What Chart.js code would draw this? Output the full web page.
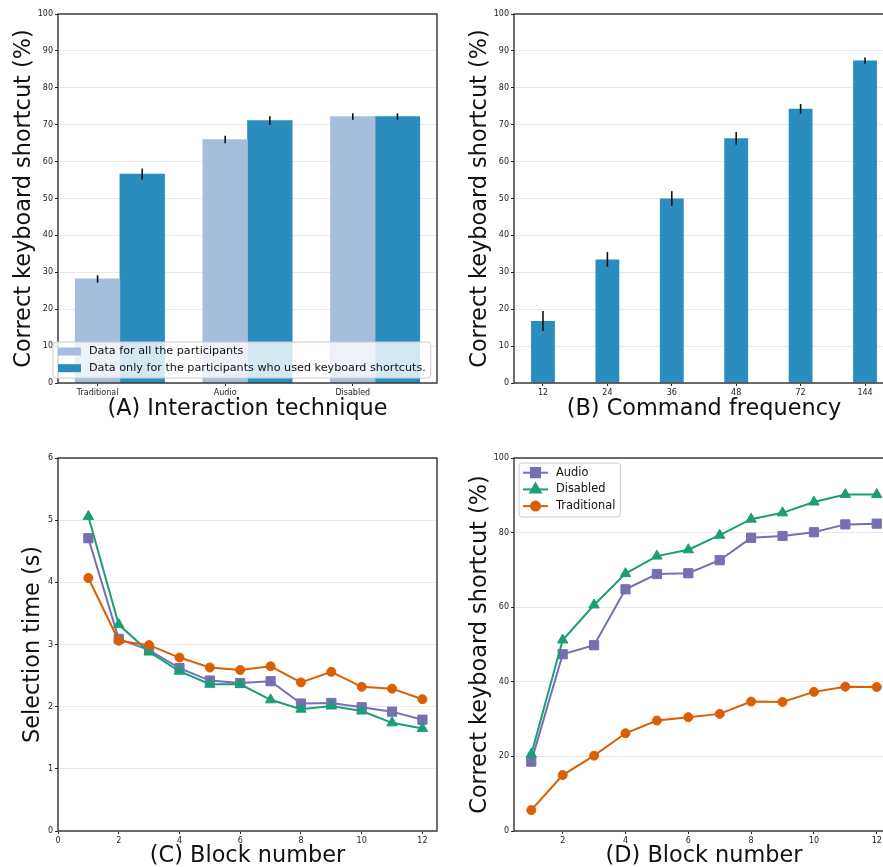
<!DOCTYPE html>
<html lang="en">
<head>
<meta charset="UTF-8" />
<title>Keyboard shortcuts study</title>
<script src="https://cdn.jsdelivr.net/npm/chart.js"></script>
<style>
  html, body { margin: 0; padding: 0; background: #fff; overflow: hidden; width: 883px; height: 867px; }
  canvas { position: absolute; }
</style>
</head>
<body>
<canvas id="chartA" width="441" height="430" style="left:0;top:0"></canvas>
<canvas id="chartB" width="460" height="430" style="left:440px;top:0"></canvas>
<canvas id="chartC" width="441" height="437" style="left:0;top:430px"></canvas>
<canvas id="chartD" width="460" height="437" style="left:440px;top:430px"></canvas>
<script>
// (A) interaction technique
const techniques = ["Traditional", "Audio", "Disabled"];
const allParticipants = [28.2, 66.0, 72.2];
const allErrors = [1.0, 1.0, 0.9];
const shortcutUsers = [56.6, 71.1, 72.2];
const shortcutErrors = [1.5, 1.2, 0.9];

// (B) command frequency
const frequencies = ["12", "24", "36", "48", "72", "144"];
const frequencyValues = [16.8, 33.5, 50.0, 66.3, 74.3, 87.4];
const frequencyErrors = [2.7, 2.0, 2.0, 1.7, 1.3, 0.8];

// (C) and (D) per block
const blocks = [1, 2, 3, 4, 5, 6, 7, 8, 9, 10, 11, 12];
const timeAudio = [4.71, 3.09, 2.91, 2.62, 2.42, 2.38, 2.41, 2.05, 2.06, 1.99, 1.92, 1.79];
const timeDisabled = [5.06, 3.32, 2.88, 2.57, 2.36, 2.36, 2.11, 1.96, 2.01, 1.93, 1.74, 1.65];
const timeTraditional = [4.07, 3.06, 2.99, 2.79, 2.63, 2.59, 2.65, 2.39, 2.56, 2.32, 2.29, 2.12];
const shortcutAudio = [18.6, 47.4, 49.8, 64.8, 68.9, 69.1, 72.6, 78.6, 79.1, 80.1, 82.2, 82.4];
const shortcutDisabled = [20.6, 51.2, 60.6, 69.0, 73.7, 75.4, 79.3, 83.6, 85.3, 88.2, 90.2, 90.2];
const shortcutTraditional = [5.6, 15.0, 20.2, 26.2, 29.6, 30.5, 31.4, 34.7, 34.6, 37.3, 38.7, 38.6];

const tickFont = { family: "DejaVu Sans", size: 8 };
const titleFont = { family: "DejaVu Sans", size: 22.4, lineHeight: 1 };
const ink = "#222";
const light = "#a6bddb";
const dark = "#2b8cbe";
const purple = "#7570b3";
const green = "#1b9e77";
const orange = "#d95f02";

function yAxis(min, max, step, title, titleGap, width) {
  return {
    min: min,
    max: max,
    ticks: { stepSize: step, font: tickFont, color: ink, padding: 2 },
    grid: { color: "#e8e8e8", tickColor: ink, tickLength: 3 },
    border: { display: false },
    title: { display: true, text: title, font: titleFont, color: "#111", padding: { top: titleGap, bottom: 0 } },
    afterFit: (scale) => { scale.width = width; },
  };
}

function xAxis(min, max, tickValues, tickLabels, title, titleGap, height) {
  return {
    type: "linear",
    min: min,
    max: max,
    offset: false,
    afterBuildTicks: (scale) => {
      scale.ticks = tickValues.map((v) => ({ value: v }));
    },
    ticks: {
      font: tickFont,
      color: ink,
      padding: 2,
      maxRotation: 0,
      autoSkip: false,
      callback: (value, index) => (tickLabels ? tickLabels[index] : value),
    },
    grid: { drawOnChartArea: false, tickColor: ink, tickLength: 3, offset: false },
    border: { display: false },
    title: { display: true, text: title, font: titleFont, color: "#111", padding: { top: 0, bottom: titleGap } },
    afterFit: (scale) => {
      scale.height = height;
      scale.paddingLeft = 0;
      scale.paddingRight = 0;
    },
  };
}

function points(xs, ys) {
  return xs.map((x, i) => ({ x: x, y: ys[i] }));
}

function roundBox(ctx, x, y, w, h, r) {
  ctx.beginPath();
  ctx.moveTo(x + r, y);
  ctx.lineTo(x + w - r, y);
  ctx.arcTo(x + w, y, x + w, y + r, r);
  ctx.lineTo(x + w, y + h - r);
  ctx.arcTo(x + w, y + h, x + w - r, y + h, r);
  ctx.lineTo(x + r, y + h);
  ctx.arcTo(x, y + h, x, y + h - r, r);
  ctx.lineTo(x, y + r);
  ctx.arcTo(x, y, x + r, y, r);
  ctx.closePath();
  ctx.fillStyle = "rgba(255,255,255,0.8)";
  ctx.fill();
  ctx.strokeStyle = "#cccccc";
  ctx.lineWidth = 1;
  ctx.stroke();
}

// box around the plot area, like matplotlib spines
const framePlugin = {
  id: "frame",
  afterDatasetsDraw(chart) {
    const { ctx, chartArea: a } = chart;
    ctx.save();
    ctx.strokeStyle = ink;
    ctx.lineWidth = 1.3;
    ctx.strokeRect(a.left, a.top, a.right - a.left, a.bottom - a.top);
    ctx.restore();
  },
};

const errorBarPlugin = {
  id: "errorBars",
  afterDatasetsDraw(chart) {
    const ctx = chart.ctx;
    const yScale = chart.scales.y;
    chart.data.datasets.forEach((ds, i) => {
      if (!ds.errors) return;
      const meta = chart.getDatasetMeta(i);
      ctx.save();
      ctx.strokeStyle = "#111";
      ctx.lineWidth = 1.6;
      meta.data.forEach((bar, j) => {
        const v = ds.data[j].y;
        const e = ds.errors[j];
        ctx.beginPath();
        ctx.moveTo(bar.x, yScale.getPixelForValue(v - e));
        ctx.lineTo(bar.x, yScale.getPixelForValue(v + e));
        ctx.stroke();
      });
      ctx.restore();
    });
  },
};

const barLegendPlugin = {
  id: "barLegend",
  afterDraw(chart) {
    const { ctx, chartArea: a } = chart;
    const items = chart.data.datasets;
    ctx.save();
    ctx.font = "11.2px 'DejaVu Sans'";
    const textW = Math.max(...items.map((d) => ctx.measureText(d.label).width));
    const w = 36 + textW + 5;
    const h = 36;
    const x = a.left - 5;
    const y = a.bottom - 5 - h;
    roundBox(ctx, x, y, w, h, 3);
    items.forEach((d, i) => {
      const cy = y + 9.5 + i * 16.7;
      ctx.fillStyle = d.backgroundColor;
      ctx.fillRect(x + 5, cy - 4, 23, 8);
      ctx.fillStyle = "#111";
      ctx.textBaseline = "middle";
      ctx.fillText(d.label, x + 36, cy);
    });
    ctx.restore();
  },
};

const lineLegendPlugin = {
  id: "lineLegend",
  afterDraw(chart) {
    const { ctx, chartArea: a } = chart;
    const items = chart.data.datasets;
    ctx.save();
    ctx.font = "11.4px 'DejaVu Sans'";
    const textW = Math.max(...items.map((d) => ctx.measureText(d.label).width));
    const w = 37 + textW + 5;
    const h = 54;
    const x = a.left + 5;
    const y = a.top + 5;
    roundBox(ctx, x, y, w, h, 3);
    items.forEach((d, i) => {
      const cy = y + 9.7 + i * 16.7;
      ctx.strokeStyle = d.borderColor;
      ctx.fillStyle = d.borderColor;
      ctx.lineWidth = 2;
      ctx.beginPath();
      ctx.moveTo(x + 4, cy);
      ctx.lineTo(x + 29, cy);
      ctx.stroke();
      Chart.helpers.drawPoint(ctx, { pointStyle: d.pointStyle, radius: d.pointRadius, rotation: 0, borderWidth: 1 }, x + 16.5, cy);
      ctx.fillStyle = "#111";
      ctx.textBaseline = "middle";
      ctx.fillText(d.label, x + 37, cy);
    });
    ctx.restore();
  },
};

function lineSet(label, values, color, style, radius, order) {
  return {
    label: label,
    data: points(blocks, values),
    borderColor: color,
    backgroundColor: color,
    pointBackgroundColor: color,
    pointBorderColor: color,
    borderWidth: 2,
    pointStyle: style,
    pointRadius: radius,
    pointBorderWidth: 1,
    tension: 0,
    order: order,
  };
}

function baseOptions(padding, x, y) {
  return {
    responsive: false,
    animation: false,
    layout: { padding: padding, autoPadding: false },
    plugins: { legend: { display: false }, tooltip: { enabled: false } },
    scales: { x: x, y: y },
  };
}

const techX = techniques.map((t, i) => i);

new Chart(document.getElementById("chartA"), {
  type: "bar",
  data: {
    datasets: [
      {
        label: "Data for all the participants",
        data: points(techX, allParticipants),
        errors: allErrors,
        backgroundColor: light,
        grouped: false,
        categoryPercentage: 1,
        barPercentage: 1,
      },
      {
        label: "Data only for the participants who used keyboard shortcuts.",
        data: points(techX.map((i) => i + 0.35), shortcutUsers),
        errors: shortcutErrors,
        backgroundColor: dark,
        grouped: false,
        categoryPercentage: 1,
        barPercentage: 1,
      },
    ],
  },
  options: baseOptions(
    { top: 14, right: 4, left: 0, bottom: 0 },
    xAxis(-0.31, 2.66, techX, techniques, "(A) Interaction technique", 10, 47),
    yAxis(0, 100, 10, "Correct keyboard shortcut (%)", 13, 58)
  ),
  plugins: [errorBarPlugin, framePlugin, barLegendPlugin],
});

const freqX = frequencies.map((f, i) => i);

new Chart(document.getElementById("chartB"), {
  type: "bar",
  data: {
    datasets: [
      {
        label: "Correct keyboard shortcut",
        data: points(freqX, frequencyValues),
        errors: frequencyErrors,
        backgroundColor: dark,
        grouped: false,
        categoryPercentage: 1,
        barPercentage: 0.37,
      },
    ],
  },
  options: baseOptions(
    { top: 14, right: 6, left: 0, bottom: 0 },
    xAxis(-0.45, 5.45, freqX, frequencies, "(B) Command frequency", 10, 47),
    yAxis(0, 100, 10, "Correct keyboard shortcut (%)", 29, 74)
  ),
  plugins: [errorBarPlugin, framePlugin],
});

new Chart(document.getElementById("chartC"), {
  type: "line",
  data: {
    datasets: [
      lineSet("Audio", timeAudio, purple, "rect", 6.5, 3),
      lineSet("Disabled", timeDisabled, green, "triangle", 6, 2),
      lineSet("Traditional", timeTraditional, orange, "circle", 4.5, 1),
    ],
  },
  options: baseOptions(
    { top: 28, right: 4, left: 0, bottom: 0 },
    xAxis(0, 12.48, [0, 2, 4, 6, 8, 10, 12], null, "(C) Block number", 0, 36),
    yAxis(0, 6, 1, "Selection time (s)", 22, 58)
  ),
  plugins: [framePlugin],
});

new Chart(document.getElementById("chartD"), {
  type: "line",
  data: {
    datasets: [
      lineSet("Audio", shortcutAudio, purple, "rect", 6.5, 3),
      lineSet("Disabled", shortcutDisabled, green, "triangle", 6, 2),
      lineSet("Traditional", shortcutTraditional, orange, "circle", 4.5, 1),
    ],
  },
  options: baseOptions(
    { top: 28, right: 6, left: 0, bottom: 0 },
    xAxis(0.45, 12.55, [2, 4, 6, 8, 10, 12], null, "(D) Block number", 0, 36),
    yAxis(0, 100, 20, "Correct keyboard shortcut (%)", 29, 74)
  ),
  plugins: [framePlugin, lineLegendPlugin],
});
</script>
</body>
</html>
